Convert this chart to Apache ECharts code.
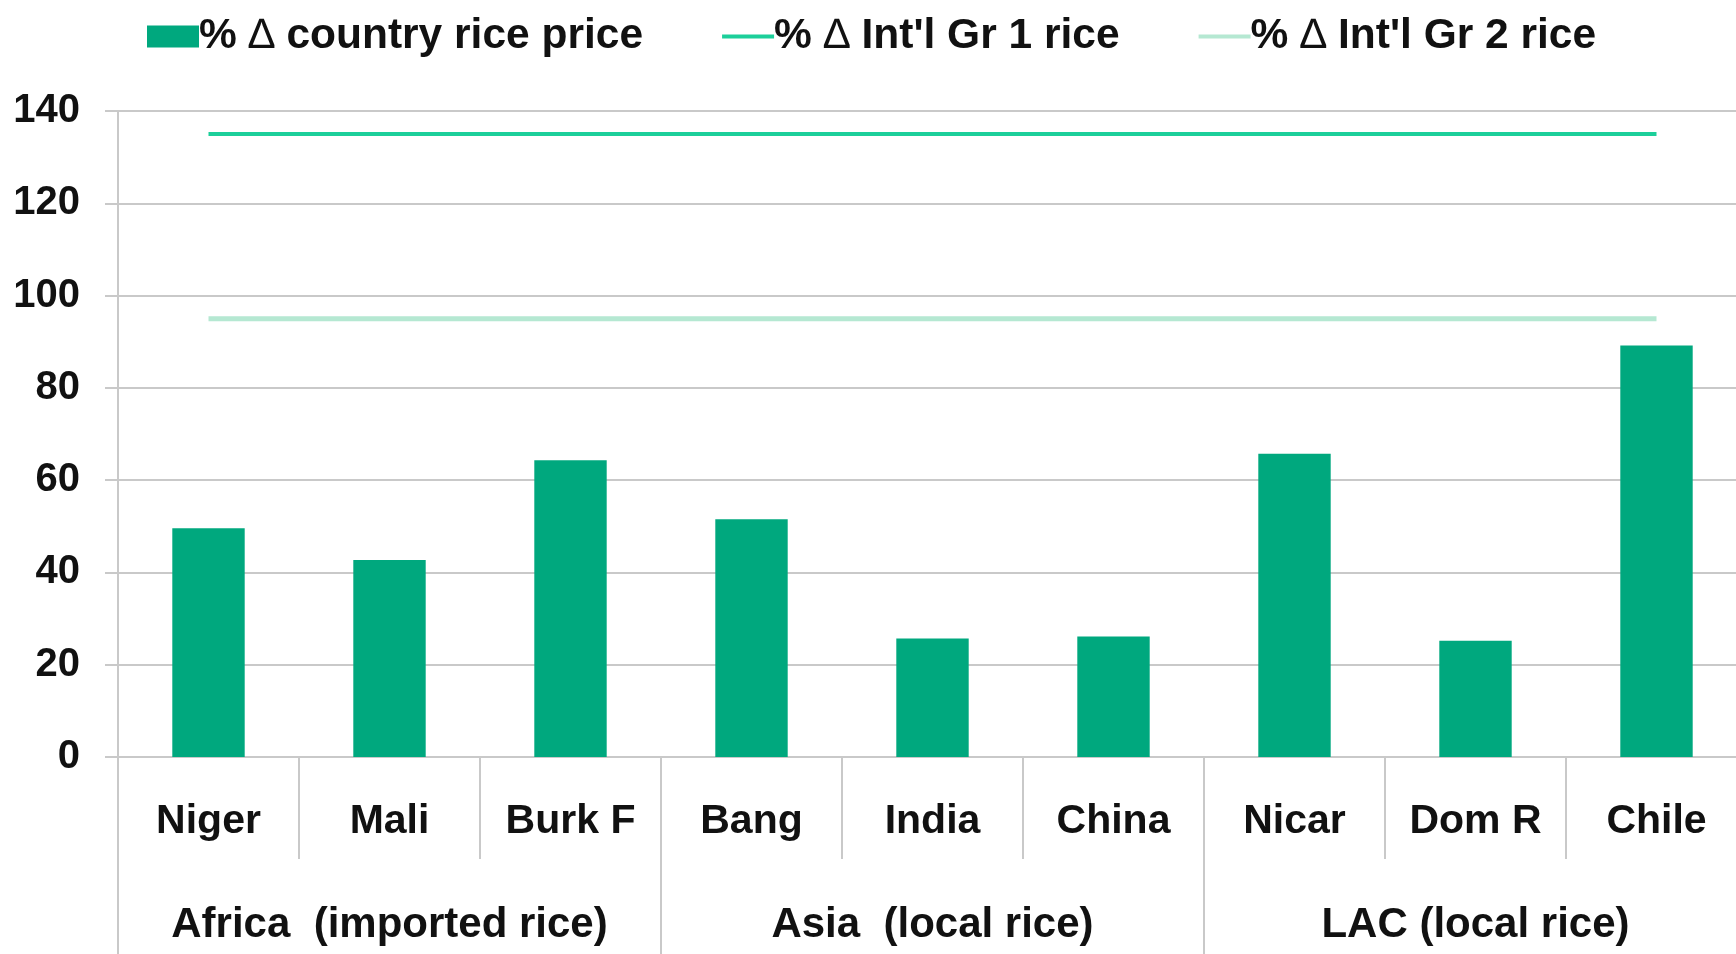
<!DOCTYPE html>
<html>
<head>
<meta charset="utf-8">
<script src="https://cdn.jsdelivr.net/npm/echarts@6/dist/echarts.min.js"></script>
<style>
  html, body { margin: 0; padding: 0; background: #fff; }
  #riceChart { width: 1736px; height: 954px; }
</style>
</head>
<body>
<div id="riceChart"></div>
<script>
// data
var countries = ['Niger', 'Mali', 'Burk F', 'Bang', 'India', 'China', 'Nicar', 'Dom R', 'Chile']
var regions = ['Africa  (imported rice)', 'Asia  (local rice)', 'LAC (local rice)']
var countryPrice = [49.6, 42.7, 64.3, 51.5, 25.7, 26.1, 65.7, 25.2, 89.2]
var gr1Rice = [135, 135, 135, 135, 135, 135, 135, 135, 135]
var gr2Rice = [95, 95, 95, 95, 95, 95, 95, 95, 95]

var font = 'Liberation Sans, Arial, sans-serif'
var gridColor = '#c9c9c9'
var legendSize = 42.5

var myChart = echarts.init(document.getElementById('riceChart'))

var option = {
  animation: false,
  legend: {
    top: 10,
    left: 142,
    itemGap: 77,
    itemWidth: 52,
    itemHeight: 22,
    formatter: function (name) {
      // 三角符号用细体
      return name.replace('∆', '{d|∆}')
    },
    textStyle: {
      fontFamily: font, fontWeight: 'bold', fontSize: legendSize, color: '#111', padding: [0, 0, 0, -5],
      rich: { d: { fontFamily: font, fontWeight: 'normal', fontSize: legendSize, color: '#111' } }
    },
    data: [
      { name: '% ∆ country rice price', icon: 'rect' },
      { name: "% ∆ Int'l Gr 1 rice", itemStyle: { opacity: 0 }, lineStyle: { width: 4 } },
      { name: "% ∆ Int'l Gr 2 rice", itemStyle: { opacity: 0 }, lineStyle: { width: 4 } }
    ]
  },
  grid: {
    left: 118,
    top: 111,
    width: 1629,
    bottom: 197,
    outerBoundsMode: 'none',
    containLabel: false
  },
  xAxis: [
    {
      type: 'category',
      data: countries,
      axisLine: { lineStyle: { color: gridColor, width: 2 } },
      axisTick: { show: true, interval: 0, length: 102, lineStyle: { color: gridColor, width: 2 } },
      axisLabel: { interval: 0, margin: 44, fontFamily: font, fontWeight: 'bold', fontSize: 41, color: '#111' }
    },
    {
      type: 'category',
      position: 'bottom',
      data: regions,
      axisLine: { show: false },
      axisTick: { show: true, interval: 0, length: 210, lineStyle: { color: gridColor, width: 2 } },
      axisLabel: { interval: 0, margin: 147, fontFamily: font, fontWeight: 'bold', fontSize: 42, color: '#111' }
    }
  ],
  yAxis: {
    type: 'value',
    min: 0,
    max: 140,
    interval: 20,
    axisLine: { show: true, lineStyle: { color: gridColor, width: 2 } },
    axisTick: { show: true, length: 13, lineStyle: { color: gridColor, width: 2 } },
    splitLine: { lineStyle: { color: gridColor, width: 2 } },
    axisLabel: { margin: 38, fontFamily: font, fontWeight: 'bold', fontSize: 40, color: '#111' }
  },
  series: [
    {
      name: '% ∆ country rice price',
      type: 'bar',
      barWidth: '40%',
      itemStyle: { color: '#00a87e' },
      data: countryPrice
    },
    {
      name: "% ∆ Int'l Gr 1 rice",
      type: 'line',
      symbol: 'none',
      itemStyle: { color: '#1ccf9a' },
      lineStyle: { color: '#1ccf9a', width: 4 },
      data: gr1Rice
    },
    {
      name: "% ∆ Int'l Gr 2 rice",
      type: 'line',
      symbol: 'none',
      itemStyle: { color: '#b5e8d2' },
      lineStyle: { color: '#b5e8d2', width: 5 },
      data: gr2Rice
    }
  ]
}

myChart.setOption(option)
</script>
</body>
</html>
